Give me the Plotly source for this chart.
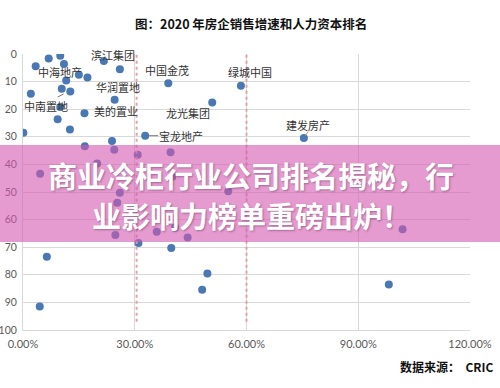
import plotly.graph_objects as go

# Sales growth (%) and human-capital rank
growth = [0.1, 2.1, 3.4, 6.9, 10.0, 11.0, 11.6, 10.4, 12.7, 10.0, 9.3, 12.6, 15.0, 17.3, 16.5,
          21.7, 26.0, 24.6, 23.9, 32.8, 16.6, 24.5, 30.8, 39.6, 39.0, 58.5, 50.8, 75.4, 19.9,
          4.6, 26.0, 25.3, 24.8, 35.9, 31.0, 40.1, 55.1, 40.8, 44.2, 39.8, 101.9, 6.4, 4.5,
          49.5, 48.1, 98.2]
rank = [28.5, 14.4, 4.4, 1.6, 0.6, 3.6, 9.6, 12.6, 13.6, 19.2, 23.6, 27.4, 7.5, 8.5, 21.5,
        2.5, 5.5, 16.6, 31.5, 29.6, 33.4, 34.7, 36.5, 35.6, 10.6, 11.5, 17.6, 30.4, 39.7,
        43.4, 50.3, 53.9, 65.6, 64.4, 68.5, 44.5, 49.7, 62.9, 66.5, 70.3, 63.5, 73.5, 91.5,
        79.5, 85.4, 83.5]

label_names = ["中海地产", "滨江集团", "华润置地", "中南置地", "美的置业",
               "中国金茂", "绿城中国", "龙光集团", "宝龙地产", "建发房产"]
label_x = [9.8, 24.2, 25.4, 6.2, 25.0, 38.7, 61.0, 44.4, 42.4, 76.6]
label_y = [6.6, 0.2, 11.8, 18.8, 20.6, 5.8, 6.6, 21.2, 29.6, 25.6]

x_ticks = [0, 30, 60, 90, 120]
x_tick_text = ["0.00%", "30.00%", "60.00%", "90.00%", "120.00%"]
y_ticks = [0, 10, 20, 30, 40, 50, 60, 70, 80, 90, 100]

title_text = "图：2020 年房企销售增速和人力资本排名"
source_text = "数据来源：  CRIC"
overlay_line1 = "商业冷柜行业公司排名揭秘，行"
overlay_line2 = "业影响力榜单重磅出炉！"

# plot area geometry in pixels (for converting page positions to paper coords)
L, R, T, B = 23, 470, 54, 330


def px(xp):
    return (xp - L) / (R - L)


def py(yp):
    return (B - yp) / (B - T)


fig = go.Figure()
fig.add_trace(go.Scatter(
    x=growth, y=rank, mode="markers",
    marker=dict(size=8, color="#4A78B3"),
    hoverinfo="skip", showlegend=False,
))

annotations = []
for name, lx, ly in zip(label_names, label_x, label_y):
    annotations.append(dict(
        x=lx, y=ly, xref="x", yref="y", text=name, showarrow=False,
        font=dict(family="Noto Sans CJK SC", size=11, color="#333333"),
    ))

annotations.append(dict(
    x=px(251), y=py(12), xref="paper", yref="paper", text="<b>" + title_text + "</b>",
    showarrow=False, font=dict(family="Noto Sans CJK SC", size=12.5, color="#111111"),
))
annotations.append(dict(
    x=px(495), y=py(377), xref="paper", yref="paper",
    xanchor="right", text="<b>" + source_text + "</b>", showarrow=False,
    font=dict(family="Noto Sans CJK SC", size=12, color="#111111"),
))
overlay_font = dict(family="Noto Sans CJK SC", size=29, color="white",
                    shadow="1px 1px 2px rgba(90,40,80,0.45)")
annotations.append(dict(
    x=px(251), y=py(175), xref="paper", yref="paper",
    text="<b>" + overlay_line1 + "</b>", showarrow=False, font=overlay_font,
))
annotations.append(dict(
    x=px(252), y=py(215), xref="paper", yref="paper",
    text="<b>" + overlay_line2 + "</b>", showarrow=False, font=overlay_font,
))

shapes = []
for vx in [30.5, 60.0]:
    shapes.append(dict(type="line", xref="x", yref="y", x0=vx, x1=vx, y0=0.3, y1=97,
                       line=dict(color="#E3A2A6", width=2, dash="dot"), layer="above"))
# leader lines
shapes.append(dict(type="line", xref="x", yref="y", x0=33.8, x1=36.3, y0=29.6, y1=29.6,
                   line=dict(color="#777777", width=1)))
shapes.append(dict(type="line", xref="x", yref="y", x0=9.3, x1=10.9, y0=15.6, y1=14.5,
                   line=dict(color="#777777", width=1)))
shapes.append(dict(type="line", xref="x", yref="y", x0=75.8, x1=76.6, y0=29.6, y1=28.0,
                   line=dict(color="#C9A15A", width=1)))
# pink overlay band
shapes.append(dict(type="rect", xref="paper", yref="paper",
                   x0=px(0), x1=px(500), y0=py(242), y1=py(145),
                   fillcolor="rgba(212,88,175,0.6)", line=dict(width=0), layer="above"))

fig.update_layout(
    width=500, height=388,
    margin=dict(l=L, r=500 - R, t=T, b=388 - B),
    paper_bgcolor="white", plot_bgcolor="white",
    annotations=annotations, shapes=shapes,
    xaxis=dict(range=[0, 120], tickvals=x_ticks, ticktext=x_tick_text,
               showgrid=True, gridcolor="#D9D9D9", gridwidth=1,
               showline=True, linecolor="#D9D9D9", zeroline=False,
               automargin=False, ticklabelstandoff=4,
               ticks="", tickfont=dict(family="Lato", size=11, color="#595959")),
    yaxis=dict(range=[100, 0], tickvals=y_ticks,
               showgrid=True, gridcolor="#D9D9D9", gridwidth=1,
               showline=True, linecolor="#D9D9D9", zeroline=False,
               automargin=False, ticklabelstandoff=3,
               ticks="", tickfont=dict(family="Lato", size=10.5, color="#595959")),
)

fig.write_html("out.html")
